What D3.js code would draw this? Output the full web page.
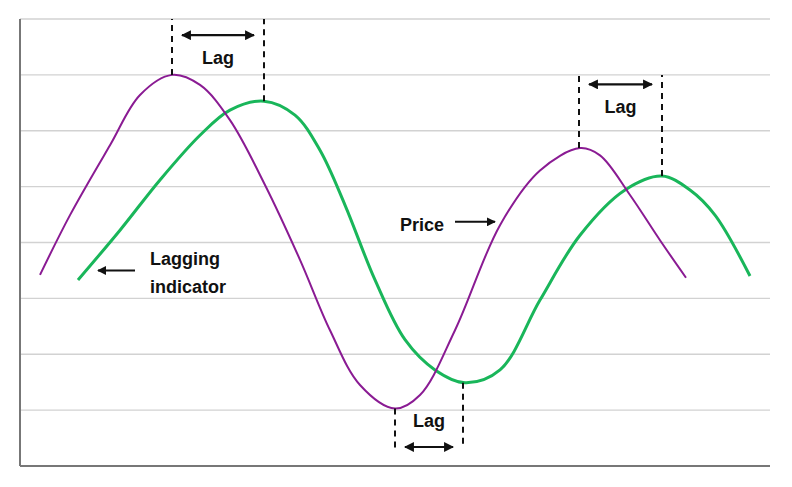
<!DOCTYPE html>
<html><head><meta charset="utf-8">
<script src="https://cdn.jsdelivr.net/npm/d3@7"></script>
<style>body{margin:0;background:#fff}text{font-family:"Liberation Sans",Arial,sans-serif;font-weight:bold;font-size:18px;fill:#111}</style>
</head><body><div id="container"></div>
<script>
// x in chart units (0..750), y in grid units (0..8)
var priceX = [20,50,90,120,152,180,210,245,280,310,340,375,400,435,480,520,560,580,610,640,666];
var priceY = [3.42,4.49,5.74,6.64,7.0,6.82,6.19,5.03,3.69,2.43,1.45,1.03,1.27,2.43,4.31,5.29,5.69,5.56,4.85,4.04,3.37];
var lagX = [58,100,140,180,210,244,275,300,325,355,385,415,445,480,520,560,605,642,670,695,730];
var lagY = [3.33,4.22,5.12,5.92,6.37,6.53,6.28,5.65,4.67,3.33,2.26,1.72,1.49,1.72,2.97,4.13,4.94,5.19,4.94,4.49,3.4];
var lagNotes = [
  {a:152, b:244, y0:7.0, y1:6.53, end:8, arrowY:7.71, label:7.2},
  {a:559, b:642, y0:5.69, y1:5.19, end:7, arrowY:6.83, label:6.31},
  {a:375, b:443, y0:1.03, y1:1.49, end:0.33, arrowY:0.34, label:0.7}
];

var W = 792, H = 487;
var x = d3.scaleLinear().domain([0,750]).range([20,770]);
var y = d3.scaleLinear().domain([0,8]).range([466,19]);

var svg = d3.select("#container").append("svg").attr("width", W).attr("height", H);
var defs = svg.append("defs");
defs.append("marker").attr("id","ah").attr("viewBox","0 0 10 10").attr("refX",9).attr("refY",5)
  .attr("markerWidth",4.5).attr("markerHeight",4.5).attr("orient","auto-start-reverse")
  .append("path").attr("d","M0,0L10,5L0,10z").attr("fill","#111");

// grid
svg.selectAll("line.grid").data(d3.range(1,9)).enter().append("line")
  .attr("x1", x(0)).attr("x2", x(750)).attr("y1", d => y(d)).attr("y2", d => y(d))
  .attr("stroke","#d2d2d2").attr("stroke-width",1.3);
svg.append("line").attr("x1",x(0)).attr("x2",x(0)).attr("y1",y(8)).attr("y2",y(0)).attr("stroke","#777").attr("stroke-width",2);
svg.append("line").attr("x1",x(0)).attr("x2",x(750)).attr("y1",y(0)).attr("y2",y(0)).attr("stroke","#777").attr("stroke-width",2);

var line = d3.line().x(d => x(d[0])).y(d => y(d[1])).curve(d3.curveCatmullRom.alpha(0.5));
svg.append("path").datum(d3.zip(lagX, lagY)).attr("d", line).attr("fill","none").attr("stroke","#19b65a").attr("stroke-width",3);
svg.append("path").datum(d3.zip(priceX, priceY)).attr("d", line).attr("fill","none").attr("stroke","#8a1b93").attr("stroke-width",2);

// lag annotations
lagNotes.forEach(function(n){
  [[n.a,n.y0],[n.b,n.y1]].forEach(function(p){
    svg.append("line").attr("x1",x(p[0])).attr("x2",x(p[0])).attr("y1",y(p[1])).attr("y2",y(n.end))
      .attr("stroke","#111").attr("stroke-width",2).attr("stroke-dasharray","6,5");
  });
  svg.append("line").attr("x1",x(n.a+10)).attr("x2",x(n.b-10)).attr("y1",y(n.arrowY)).attr("y2",y(n.arrowY))
    .attr("stroke","#111").attr("stroke-width",2.2).attr("marker-start","url(#ah)").attr("marker-end","url(#ah)");
  svg.append("text").attr("x",x((n.a+n.b)/2)).attr("y",y(n.label)).attr("text-anchor","middle").text("Lag");
});

// labels
svg.append("text").attr("x",x(380)).attr("y",y(4.2)).text("Price");
svg.append("line").attr("x1",x(435)).attr("x2",x(475)).attr("y1",y(4.37)).attr("y2",y(4.37))
  .attr("stroke","#111").attr("stroke-width",2).attr("marker-end","url(#ah)");
svg.append("text").attr("x",x(130)).attr("y",y(3.6)).text("Lagging");
svg.append("text").attr("x",x(130)).attr("y",y(3.1)).text("indicator");
svg.append("line").attr("x1",x(115)).attr("x2",x(78)).attr("y1",y(3.5)).attr("y2",y(3.5))
  .attr("stroke","#111").attr("stroke-width",2).attr("marker-end","url(#ah)");
</script></body></html>
